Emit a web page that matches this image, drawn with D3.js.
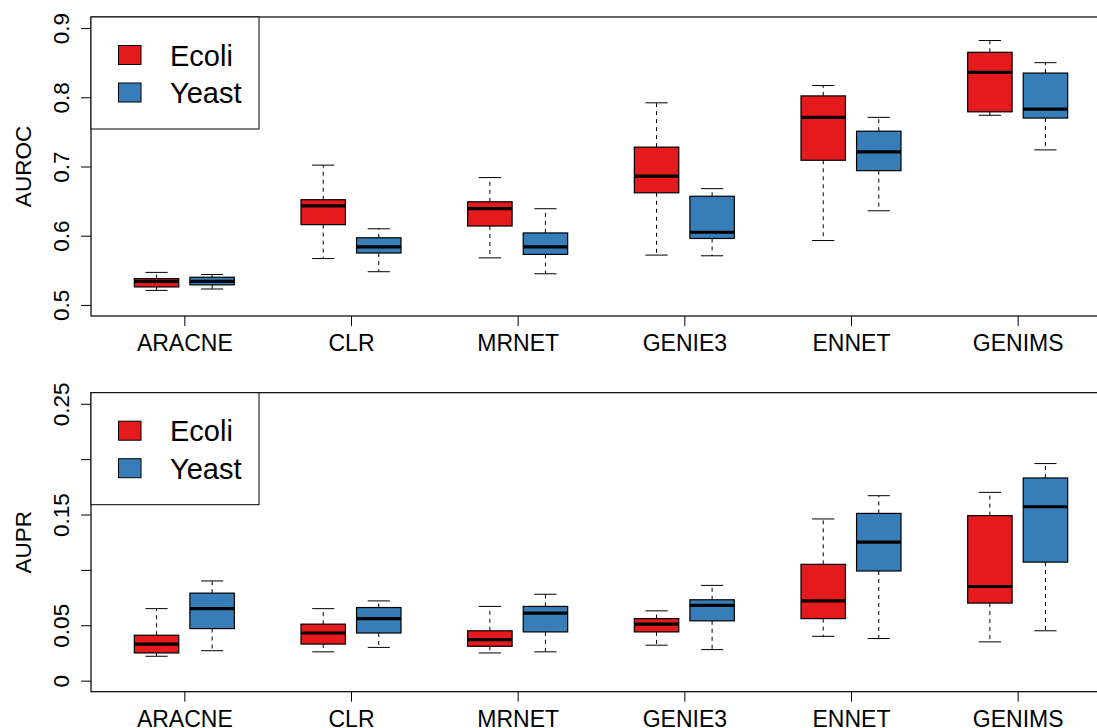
<!DOCTYPE html>
<html>
<head>
<meta charset="utf-8">
<script src="https://cdn.jsdelivr.net/npm/d3@7"></script>
<style>
  body { margin: 0; background: #fff; }
  svg { display: block; font-family: "Liberation Sans", Arial, sans-serif; }
</style>
</head>
<body>
<svg id="chart" width="1097" height="728"></svg>
<script>
// methods along the x axis
const methods = ["ARACNE", "CLR", "MRNET", "GENIE3", "ENNET", "GENIMS"];
const seriesNames = ["Ecoli", "Yeast"];
const seriesColors = ["#E41A1C", "#377EB8"];

// box stats per method: [lower whisker, q1, median, q3, upper whisker]
const aurocEcoli = [
  [0.521, 0.526, 0.534, 0.538, 0.547],
  [0.567, 0.616, 0.643, 0.652, 0.702],
  [0.568, 0.614, 0.639, 0.649, 0.684],
  [0.572, 0.662, 0.686, 0.728, 0.792],
  [0.593, 0.709, 0.771, 0.802, 0.817],
  [0.774, 0.779, 0.836, 0.865, 0.882]
];
const aurocYeast = [
  [0.523, 0.529, 0.534, 0.540, 0.544],
  [0.548, 0.575, 0.584, 0.597, 0.610],
  [0.545, 0.573, 0.584, 0.604, 0.639],
  [0.571, 0.596, 0.605, 0.657, 0.668],
  [0.636, 0.694, 0.721, 0.751, 0.771],
  [0.724, 0.770, 0.783, 0.835, 0.850]
];
const auprEcoli = [
  [0.022, 0.025, 0.033, 0.041, 0.065],
  [0.026, 0.033, 0.043, 0.051, 0.065],
  [0.025, 0.031, 0.037, 0.045, 0.067],
  [0.032, 0.044, 0.051, 0.056, 0.063],
  [0.040, 0.056, 0.072, 0.105, 0.146],
  [0.035, 0.070, 0.085, 0.149, 0.170]
];
const auprYeast = [
  [0.027, 0.047, 0.065, 0.079, 0.090],
  [0.030, 0.043, 0.056, 0.066, 0.072],
  [0.026, 0.044, 0.061, 0.067, 0.078],
  [0.028, 0.054, 0.068, 0.073, 0.086],
  [0.038, 0.099, 0.125, 0.151, 0.167],
  [0.045, 0.107, 0.157, 0.183, 0.196]
];

const aurocTicks = [0.5, 0.6, 0.7, 0.8, 0.9];
const auprTicks = [0, 0.05, 0.1, 0.15, 0.2, 0.25];
const auprTickLabels = ["0", "0.05", "", "0.15", "", "0.25"];

const svg = d3.select("#chart");

// box positions: Ecoli at 3i+1, Yeast at 3i+2 (like R boxplot 'at')
const x = d3.scaleLinear().domain([-0.18, 18.18]).range([91, 1111]);
const boxW = x(0.8) - x(0);

function panel(opts) {
  const y = d3.scaleLinear().domain(opts.domain).range([opts.bottom, opts.top]);
  const g = svg.append("g");

  // y axis
  const yAxis = g.append("g").attr("transform", "translate(91,0)")
    .call(d3.axisLeft(y).tickValues(opts.ticks).tickSize(10).tickFormat((d, i) => opts.tickLabels[i]));
  yAxis.select(".domain").remove();
  yAxis.selectAll(".tick line").attr("stroke", "#000");
  yAxis.selectAll(".tick text")
    .attr("font-size", 22.5).attr("fill", "#000")
    .attr("x", null).attr("dy", null)
    .attr("text-anchor", "middle")
    .attr("transform", "translate(-22,0) rotate(-90)");

  // x axis
  const xAxis = g.append("g").attr("transform", `translate(0,${opts.bottom})`)
    .call(d3.axisBottom(x).tickValues(methods.map((m, i) => 3 * i + 1.5)).tickSize(10)
      .tickFormat((d, i) => methods[i]));
  xAxis.select(".domain").remove();
  xAxis.selectAll(".tick line").attr("stroke", "#000");
  xAxis.selectAll(".tick text").attr("font-size", 23).attr("fill", "#000")
    .attr("y", 35).attr("dy", null);

  // frame
  g.append("rect")
    .attr("x", 91).attr("y", opts.top)
    .attr("width", 1111 - 91).attr("height", opts.bottom - opts.top)
    .attr("fill", "none").attr("stroke", "#000").attr("stroke-width", 1.2);

  // y title
  g.append("text")
    .attr("transform", `translate(31,${(opts.top + opts.bottom) / 2}) rotate(-90)`)
    .attr("text-anchor", "middle").attr("font-size", 22.5)
    .text(opts.title);

  // boxes
  opts.series.forEach((data, s) => {
    const bx = g.append("g").selectAll("g").data(data).join("g")
      .attr("transform", (d, i) => `translate(${x(3 * i + 1 + s)},0)`);

    bx.append("line")
      .attr("y1", d => y(d[3])).attr("y2", d => y(d[4]))
      .attr("stroke", "#000").attr("stroke-dasharray", "4,4");
    bx.append("line")
      .attr("y1", d => y(d[1])).attr("y2", d => y(d[0]))
      .attr("stroke", "#000").attr("stroke-dasharray", "4,4");
    bx.append("line")
      .attr("x1", -boxW / 4).attr("x2", boxW / 4)
      .attr("y1", d => y(d[4])).attr("y2", d => y(d[4]))
      .attr("stroke", "#000");
    bx.append("line")
      .attr("x1", -boxW / 4).attr("x2", boxW / 4)
      .attr("y1", d => y(d[0])).attr("y2", d => y(d[0]))
      .attr("stroke", "#000");
    bx.append("rect")
      .attr("x", -boxW / 2).attr("width", boxW)
      .attr("y", d => y(d[3])).attr("height", d => y(d[1]) - y(d[3]))
      .attr("fill", seriesColors[s]).attr("stroke", "#000").attr("stroke-width", 1.2);
    bx.append("line")
      .attr("x1", -boxW / 2).attr("x2", boxW / 2)
      .attr("y1", d => y(d[2])).attr("y2", d => y(d[2]))
      .attr("stroke", "#000").attr("stroke-width", 3.2);
  });

  // legend
  const lg = g.append("g").attr("transform", `translate(91,${opts.top})`);
  lg.append("rect").attr("width", 168).attr("height", 112)
    .attr("fill", "#fff").attr("stroke", "#000").attr("stroke-width", 1);
  seriesNames.forEach((name, i) => {
    lg.append("rect")
      .attr("x", 27.5).attr("y", 28.5 + i * 37.5)
      .attr("width", 22.5).attr("height", 19)
      .attr("fill", seriesColors[i]).attr("stroke", "#000").attr("stroke-width", 1);
    lg.append("text")
      .attr("x", 79).attr("y", 48.5 + i * 37.5)
      .attr("font-size", 29).text(name);
  });
}

panel({
  top: 17, bottom: 316, domain: [0.484, 0.916],
  ticks: aurocTicks, tickLabels: aurocTicks.map(String),
  title: "AUROC", series: [aurocEcoli, aurocYeast]
});
panel({
  top: 392.7, bottom: 691.7, domain: [-0.01, 0.26],
  ticks: auprTicks, tickLabels: auprTickLabels,
  title: "AUPR", series: [auprEcoli, auprYeast]
});
</script>
</body>
</html>
